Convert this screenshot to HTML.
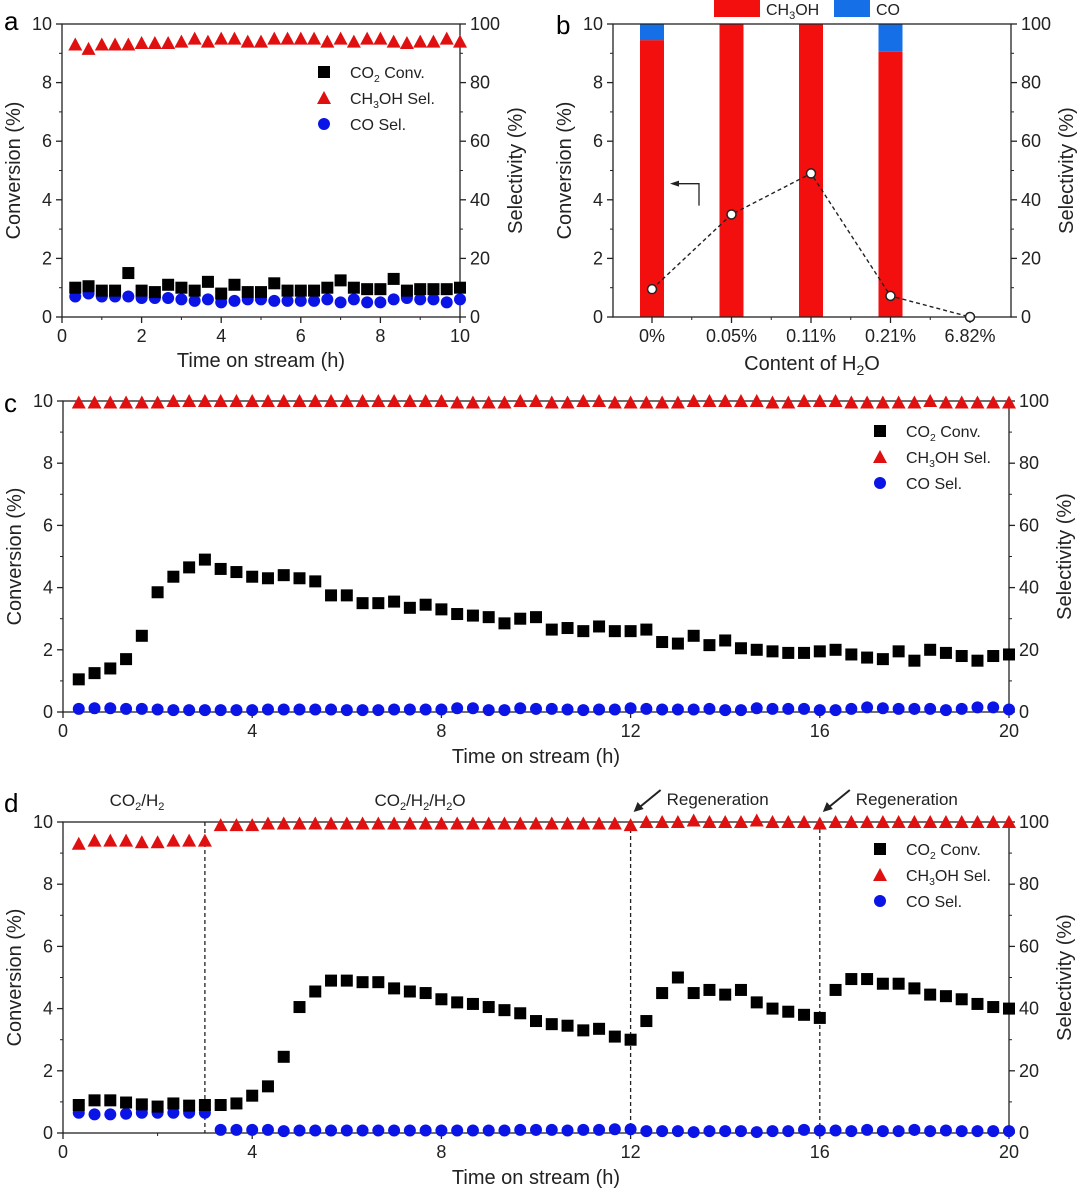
<!DOCTYPE html>
<html><head><meta charset="utf-8"><style>
html,body{margin:0;padding:0;background:#fff}
svg{display:block;font-family:"Liberation Sans",Arial,sans-serif}
</style></head><body>
<svg id="fig" width="1080" height="1190" viewBox="0 0 1080 1190" xmlns="http://www.w3.org/2000/svg"></svg>
<script>
// ---------- DATA ----------
const aConv=[1.0,1.05,0.9,0.9,1.5,0.9,0.85,1.1,1.0,0.9,1.2,0.8,1.1,0.85,0.85,1.15,0.9,0.9,0.9,1.0,1.25,1.0,0.95,0.95,1.3,0.9,0.95,0.95,0.95,1.0];
const aMeOH=[93,91.5,93,93,93,93.5,93.5,93.5,94,95,94,95,95,94,94,95,95,95,95,94,95,94,95,95,94,93.5,94,94,95,94];
const aCO=[7,8,7,7,7,6.5,6.5,6.5,6,5.5,6,5,5.5,6,6,5.5,5.5,5.5,5.5,6,5,6,5,5,6,6.5,6,6,5,6];
const bCats=["0%","0.05%","0.11%","0.21%","6.82%"];
const bMeOH=[94.5,100,100,90.5,0];
const bCO=[5.5,0,0,9.5,0];
const bConv=[0.95,3.5,4.9,0.72,0.0];
const cConv=[1.05,1.25,1.4,1.7,2.45,3.85,4.35,4.65,4.9,4.6,4.5,4.35,4.3,4.4,4.3,4.2,3.75,3.75,3.5,3.5,3.55,3.35,3.45,3.3,3.15,3.1,3.05,2.85,3.0,3.05,2.65,2.7,2.6,2.75,2.6,2.6,2.65,2.25,2.2,2.45,2.15,2.3,2.05,2.0,1.95,1.9,1.9,1.95,2.0,1.85,1.75,1.7,1.95,1.65,2.0,1.9,1.8,1.65,1.8,1.85];
const cMeOH=[99.5,99.5,99.5,99.5,99.5,99.5,100,100,100,100,100,100,100,100,100,100,100,100,100,100,100,100,100,100,99.5,99.5,99.5,99.5,100,100,99.5,99.5,100,100,99.5,99.5,99.5,99.5,99.5,100,100,100,100,100,99.5,99.5,100,100,100,99.5,99.5,99.5,99.5,99.5,100,99.5,99.5,99.5,99.5,99.5];
const cCO=[1,1.2,1.2,1,1,0.8,0.6,0.6,0.6,0.6,0.6,0.6,0.8,0.8,0.8,0.8,0.8,0.6,0.6,0.6,0.8,0.8,0.8,0.8,1.2,1.2,0.6,0.6,1.2,1,1,0.8,0.6,0.8,0.8,1.2,1,0.8,0.8,0.8,1,0.6,0.6,1.2,1,1,1,0.6,0.6,1,1.5,1.2,1,1,1,0.6,1,1.5,1.5,0.8];
const dConv=[0.9,1.05,1.05,0.98,0.92,0.85,0.95,0.88,0.9,0.9,0.95,1.2,1.5,2.45,4.05,4.55,4.9,4.9,4.85,4.85,4.65,4.55,4.5,4.3,4.2,4.15,4.05,3.95,3.85,3.6,3.5,3.45,3.3,3.35,3.1,3.0,3.6,4.5,5.0,4.5,4.6,4.45,4.6,4.2,4.0,3.9,3.8,3.7,4.6,4.95,4.95,4.8,4.8,4.65,4.45,4.4,4.3,4.15,4.05,4.0];
const dMeOH=[93,94,94,94,93.5,93.5,94,94,94,99,99,99,99.5,99.5,99.5,99.5,99.5,99.5,99.5,99.5,99.5,99.5,99.5,99.5,99.5,99.5,99.5,99.5,99.5,99.5,99.5,99.5,99.5,99.5,99.5,99,100,100,100,100.5,100,100,100,100.5,100,100,100,99.5,100,100,100,100,100,100,100,100,100,100,100,100];
const dCO=[6.5,6,6,6.2,6.5,6.5,6.5,6.5,6.5,1,1,1,1,0.6,0.8,0.8,0.8,0.8,0.8,0.8,0.8,0.8,0.8,0.8,0.8,0.8,0.8,0.8,1,1,1,0.8,1,1,1.2,1.2,0.6,0.6,0.6,0.3,0.6,0.6,0.6,0.3,0.6,0.6,1,0.8,0.8,0.6,1,0.6,0.6,1,0.6,0.8,0.6,0.6,0.6,0.6];
const xTicksA=[0,2,4,6,8,10];
const xTicksCD=[0,4,8,12,16,20];
const yTicksL=[0,2,4,6,8,10];
const yTicksR=[0,20,40,60,80,100];
const dBreaks=[3,12,16];

// ---------- HELPERS ----------
const NS="http://www.w3.org/2000/svg";
const svg=document.getElementById('fig');
function mk(tag,attrs,parent,txt){const e=document.createElementNS(NS,tag);for(const k in attrs)e.setAttribute(k,attrs[k]);if(txt!==undefined)e.textContent=txt;(parent||svg).appendChild(e);return e;}
function times(n){const t=[];for(let i=1;i<=n;i++)t.push(i/3);return t;}

function axes(P,name,xTicks,xLabelFn){
  const g=mk('g',{});
  
  
  mk('rect',{x:P.L,y:P.T,width:P.R-P.L,height:P.B-P.T,fill:'none',stroke:'#222','stroke-width':1.3},g);
  yTicksL.forEach((v,i)=>{const y=P.B-(v/10)*(P.B-P.T);
    mk('line',{x1:P.L-6,x2:P.L,y1:y,y2:y,stroke:'#222','stroke-width':1.3},g);
    if(i<yTicksL.length-1){const ym=P.B-((v+1)/10)*(P.B-P.T);mk('line',{x1:P.L-3,x2:P.L,y1:ym,y2:ym,stroke:'#222'},g);
      mk('line',{x1:P.R,x2:P.R+3,y1:ym,y2:ym,stroke:'#222'},g);}
    const t=mk('text',{x:P.L-10,y:y+6,'text-anchor':'end','font-size':18,fill:'#222'},g,String(v));
    
    mk('line',{x1:P.R,x2:P.R+6,y1:y,y2:y,stroke:'#222','stroke-width':1.3},g);
    const t2=mk('text',{x:P.R+10,y:y+6,'font-size':18,fill:'#222'},g,String(yTicksR[i]));
    
  });
  xTicks.forEach((v,i)=>{const x=P.xs(v);
    mk('line',{x1:x,x2:x,y1:P.B,y2:P.B+6,stroke:'#222','stroke-width':1.3},g);
    const t=mk('text',{x:x,y:P.B+25,'text-anchor':'middle','font-size':18,fill:'#222'},g,xLabelFn?xLabelFn(v):String(v));
    
    if(i<xTicks.length-1){const xm=P.xs((v+xTicks[i+1])/2);mk('line',{x1:xm,x2:xm,y1:P.B,y2:P.B+3,stroke:'#222'},g);}
  });
  const yl=mk('text',{transform:`translate(${P.L-42},${(P.T+P.B)/2}) rotate(-90)`,'text-anchor':'middle','font-size':20,fill:'#222'},g,'Conversion (%)');
  
  const yr=mk('text',{transform:`translate(${P.R+62},${(P.T+P.B)/2}) rotate(-90)`,'text-anchor':'middle','font-size':20,fill:'#222'},g,'Selectivity (%)');
  
}
function sq(x,y,g){const e=mk('rect',{x:x-6,y:y-6,width:12,height:12,fill:'#000'},g);}
function tri(x,y,g){const e=mk('polygon',{points:`${x},${y-7} ${x-7},${y+6} ${x+7},${y+6}`,fill:'#e01010'},g);}
function dot(x,y,g){const e=mk('circle',{cx:x,cy:y,r:6,fill:'#0a14e6'},g);}
function series(P,name,conv,meoh,co){
  const ts=times(conv.length);
  const g=mk('g',{});
  ts.forEach((t,i)=>{tri(P.xs(t),P.yr(meoh[i]),g);});
  ts.forEach((t,i)=>{dot(P.xs(t),P.yr(co[i]),g);});
  ts.forEach((t,i)=>{sq(P.xs(t),P.yl(conv[i]),g);});
}
function legend(x,y,gap,fs){
  const g=mk('g',{});
  sq(x,y,g);tri(x,y+gap,g);dot(x,y+2*gap,g);
  const t1=mk('text',{x:x+26,y:y+6,'font-size':fs,fill:'#222'},g);t1.innerHTML='CO<tspan font-size="'+(fs*0.65)+'" dy="4">2</tspan><tspan dy="-4"> Conv.</tspan>';
  
  const t2=mk('text',{x:x+26,y:y+gap+6,'font-size':fs,fill:'#222'},g);t2.innerHTML='CH<tspan font-size="'+(fs*0.65)+'" dy="4">3</tspan><tspan dy="-4">OH Sel.</tspan>';
  
  const t3=mk('text',{x:x+26,y:y+2*gap+6,'font-size':fs,fill:'#222'},g,'CO Sel.');
  
}
function panel(L,R,T,B,xmin,xmax){return {L,R,T,B,xs:v=>L+(v-xmin)/(xmax-xmin)*(R-L),yl:v=>B-v/10*(B-T),yr:v=>B-v/100*(B-T)};}
function letter(ch,x,y){const t=mk('text',{x,y,'font-size':26,fill:'#000'},svg,ch);}
function xtitle(P,y,html){const t=mk('text',{x:(P.L+P.R)/2,y,'text-anchor':'middle','font-size':20,fill:'#222'});t.innerHTML=html;}

// ---------- PANEL A ----------
const PA=panel(62,460,24,317,0,10);
axes(PA,'panel-a',xTicksA);
series(PA,'panel-a',aConv,aMeOH,aCO);
legend(324,72,26,16);
xtitle(PA,367,'Time on stream (h)');
letter('a',4,30);

// ---------- PANEL B ----------
const PB={L:613,R:1011,T:24,B:317,xs:i=>652+i*79.5,yl:v=>317-v/10*293,yr:v=>317-v/100*293};
(function(){
  const g=mk('g',{});
  bCats.forEach((c,i)=>{const x=PB.xs(i);
    if(bMeOH[i]>0){const r=mk('rect',{x:x-12,y:PB.yr(bMeOH[i]),width:24,height:PB.B-PB.yr(bMeOH[i]),fill:'#f40f0f'},g);}
    if(bCO[i]>0){const y0=PB.yr(bMeOH[i]),y1=PB.yr(bMeOH[i]+bCO[i]);const r=mk('rect',{x:x-12,y:y1,width:24,height:y0-y1,fill:'#1570e8'},g);}
  });
})();
axes(PB,'panel-b',[0,1,2,3,4],i=>bCats[i]);
(function(){
  const g=mk('g',{});
  const pts=bConv.map((v,i)=>PB.xs(i)+','+PB.yl(v)).join(' ');
  mk('polyline',{points:pts,fill:'none',stroke:'#222','stroke-width':1.4,'stroke-dasharray':'4,3'},g);
  bConv.forEach((v,i)=>{const c=mk('circle',{cx:PB.xs(i),cy:PB.yl(v),r:4.5,fill:'#fff',stroke:'#222','stroke-width':1.5},g);});
  mk('polyline',{points:`${PB.xs(0)+47},${PB.yl(3.8)} ${PB.xs(0)+47},${PB.yl(4.55)} ${PB.xs(0)+24},${PB.yl(4.55)}`,fill:'none',stroke:'#222','stroke-width':1.3},g);
  mk('polygon',{points:`${PB.xs(0)+18},${PB.yl(4.55)} ${PB.xs(0)+27},${PB.yl(4.55)-3} ${PB.xs(0)+27},${PB.yl(4.55)+3}`,fill:'#222'},g);
})();
(function(){
  const g=mk('g',{});
  mk('rect',{x:714,y:0,width:46,height:17,fill:'#f40f0f'},g);
  const t=mk('text',{x:766,y:15,'font-size':16,fill:'#222'},g);t.innerHTML='CH<tspan font-size="11" dy="4">3</tspan><tspan dy="-4">OH</tspan>';
  mk('rect',{x:834,y:0,width:36,height:17,fill:'#1570e8'},g);
  mk('text',{x:876,y:15,'font-size':16,fill:'#222'},g,'CO');
})();
xtitle(PB,370,'Content of H<tspan font-size="14" dy="5">2</tspan><tspan dy="-5">O</tspan>');
letter('b',556,34);

// ---------- PANEL C ----------
const PC=panel(63,1009,401,712,0,20);
axes(PC,'panel-c',xTicksCD);
series(PC,'panel-c',cConv,cMeOH,cCO);
legend(880,431,26,16);
xtitle(PC,763,'Time on stream (h)');
letter('c',4,412);

// ---------- PANEL D ----------
const PD=panel(63,1009,822,1133,0,20);
axes(PD,'panel-d',xTicksCD);
(function(){
  const g=mk('g',{});
  dBreaks.forEach(b=>{const l=mk('line',{x1:PD.xs(b),x2:PD.xs(b),y1:PD.yl(10),y2:PD.yl(0),stroke:'#222','stroke-width':1.3,'stroke-dasharray':'4,3'},g);});
})();
series(PD,'panel-d',dConv,dMeOH,dCO);
legend(880,849,26,16);
xtitle(PD,1184,'Time on stream (h)');
letter('d',4,812);
(function(){
  const g=mk('g',{});
  let t=mk('text',{x:137,y:806,'text-anchor':'middle','font-size':17,fill:'#222'},g);t.innerHTML='CO<tspan font-size="11" dy="4">2</tspan><tspan dy="-4">/H</tspan><tspan font-size="11" dy="4">2</tspan>';
  t=mk('text',{x:420,y:806,'text-anchor':'middle','font-size':17,fill:'#222'},g);t.innerHTML='CO<tspan font-size="11" dy="4">2</tspan><tspan dy="-4">/H</tspan><tspan font-size="11" dy="4">2</tspan><tspan dy="-4">/H</tspan><tspan font-size="11" dy="4">2</tspan><tspan dy="-4">O</tspan>';
  [[PD.xs(12),'Regeneration'],[PD.xs(16),'Regeneration']].forEach(([x,s])=>{
    mk('line',{x1:x+30,y1:790,x2:x+8,y2:808,stroke:'#222','stroke-width':2},g);
    mk('polygon',{points:`${x+3},${812} ${x+7},${802} ${x+13},${809}`,fill:'#222'},g);
    mk('text',{x:x+36,y:805,'font-size':17,fill:'#222'},g,s);
  });
})();
</script>
</body></html>
